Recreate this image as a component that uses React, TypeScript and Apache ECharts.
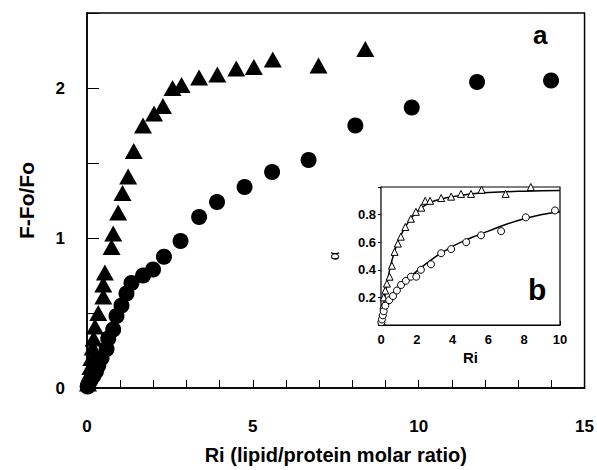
import React, { useEffect, useRef } from "react";
import * as echarts from "echarts";

// Main panel (a): F-Fo/Fo vs Ri
const mainTriangles: [number, number][] = [
  [0.03, 0.03], [0.06, 0.08], [0.1, 0.14], [0.13, 0.2], [0.17, 0.27], [0.2, 0.33],
  [0.24, 0.41], [0.34, 0.5], [0.49, 0.61], [0.49, 0.69], [0.54, 0.77], [0.74, 0.94],
  [0.79, 1.03], [0.94, 1.17], [1.07, 1.3], [1.24, 1.41], [1.41, 1.58], [1.69, 1.75],
  [2.02, 1.83], [2.29, 1.88], [2.58, 2.0], [2.85, 2.02], [3.38, 2.07], [3.93, 2.09],
  [4.5, 2.13], [5.03, 2.14], [5.6, 2.19], [6.98, 2.15], [8.39, 2.26],
];
const mainCircles: [number, number][] = [
  [0.02, 0.01], [0.05, 0.03], [0.1, 0.05], [0.19, 0.08], [0.27, 0.11], [0.34, 0.15],
  [0.44, 0.2], [0.59, 0.26], [0.64, 0.33], [0.79, 0.39], [0.89, 0.48], [1.04, 0.55],
  [1.19, 0.63], [1.34, 0.7], [1.69, 0.75], [1.99, 0.79], [2.32, 0.875], [2.82, 0.98],
  [3.38, 1.14], [3.92, 1.24], [4.75, 1.34], [5.58, 1.44], [6.68, 1.52], [8.09, 1.75],
  [9.79, 1.87], [11.76, 2.04], [13.99, 2.05],
];

// Inset panel (b): alpha vs Ri
const insetTriangles: [number, number][] = [
  [0.03, 0.03], [0.08, 0.09], [0.13, 0.14], [0.15, 0.2], [0.24, 0.25], [0.33, 0.3],
  [0.48, 0.35], [0.61, 0.43], [0.76, 0.53], [0.94, 0.59], [1.11, 0.64], [1.36, 0.71],
  [1.67, 0.77], [1.95, 0.82], [2.25, 0.85], [2.47, 0.9], [2.74, 0.9], [3.36, 0.92],
  [3.92, 0.93], [4.47, 0.95], [5.03, 0.95], [5.62, 0.98], [6.96, 0.95], [8.37, 1.0],
];
const insetCircles: [number, number][] = [
  [0.02, 0.02], [0.05, 0.04], [0.1, 0.07], [0.15, 0.1], [0.24, 0.14], [0.46, 0.18],
  [0.67, 0.21], [0.89, 0.25], [1.12, 0.29], [1.39, 0.32], [1.67, 0.35], [1.97, 0.35],
  [2.23, 0.4], [2.79, 0.44], [3.36, 0.52], [3.92, 0.55], [4.76, 0.6], [5.59, 0.65],
  [6.71, 0.68], [8.09, 0.78], [9.72, 0.83],
];
const fitTriangles: [number, number][] = [
  [0, 0], [0.25, 0.24], [0.5, 0.41], [0.75, 0.53], [1, 0.62], [1.5, 0.74], [2, 0.82],
  [2.5, 0.87], [3, 0.9], [4, 0.93], [5, 0.95], [6, 0.96], [8, 0.97], [10, 0.975],
];
const fitCircles: [number, number][] = [
  [0, 0], [0.25, 0.1], [0.5, 0.17], [1, 0.26], [1.5, 0.33], [2, 0.39], [3, 0.49],
  [4, 0.57], [5, 0.63], [6, 0.68], [7, 0.73], [8, 0.77], [9, 0.8], [10, 0.82],
];

const mainXLabels = [0, 5, 10, 15];
const mainYLabels = [0, 1, 2];
const insetXLabels = [0, 2, 4, 6, 8, 10];
const insetYLabels = [0.2, 0.4, 0.6, 0.8];

const FONT = "Liberation Sans, Arial, sans-serif";

export default function App() {
  const ref = useRef<HTMLDivElement>(null);
  useEffect(() => {
    if (!ref.current) return;
    const chart = echarts.init(ref.current, null, { renderer: "svg" });
    const black = "#000";
    const mainLabel = { color: black, fontFamily: FONT, fontWeight: "bold" as const, fontSize: 17 };
    const insetLabel = { color: black, fontFamily: FONT, fontWeight: "bold" as const, fontSize: 13 };
    chart.setOption({
      animation: false,
      backgroundColor: "#fff",
      grid: [
        { left: 87, top: 13, right: 11, bottom: 77, show: true, borderColor: black, borderWidth: 1.5, backgroundColor: "transparent" },
        { left: 381, top: 187, width: 179, height: 138, show: true, borderColor: black, borderWidth: 1.2, backgroundColor: "#fff", z: 5 },
      ],
      xAxis: [
        {
          gridIndex: 0, type: "value", min: 0, max: 15, interval: 1,
          name: "Ri (lipid/protein molar ratio)", nameLocation: "middle", nameGap: 57,
          nameTextStyle: { ...mainLabel, fontSize: 20 },
          axisLine: { lineStyle: { color: black, width: 1.5 } },
          axisTick: { inside: true, length: 8, lineStyle: { color: black, width: 1 } },
          axisLabel: {
            ...mainLabel, margin: 30,
            formatter: (v: number) => (mainXLabels.includes(v) ? String(v) : ""),
          },
          splitLine: { show: false },
        },
        {
          gridIndex: 1, type: "value", min: 0, max: 10, interval: 1,
          name: "Ri", nameLocation: "middle", nameGap: 25,
          nameTextStyle: { ...insetLabel, fontSize: 15 },
          axisLine: { lineStyle: { color: black, width: 1.2 } },
          axisTick: { inside: true, length: 4, lineStyle: { color: black } },
          axisLabel: {
            ...insetLabel, margin: 8,
            formatter: (v: number) => (insetXLabels.includes(v) ? String(v) : ""),
          },
          splitLine: { show: false },
        },
      ],
      yAxis: [
        {
          gridIndex: 0, type: "value", min: 0, max: 2.5, interval: 0.5,
          name: "F-Fo/Fo", nameLocation: "middle", nameGap: 50, nameRotate: 90,
          nameTextStyle: { ...mainLabel, fontSize: 21 },
          axisLine: { lineStyle: { color: black, width: 1.5 } },
          axisTick: { inside: true, length: 12, lineStyle: { color: black, width: 1 } },
          axisLabel: {
            ...mainLabel, margin: 22,
            formatter: (v: number) => (mainYLabels.includes(v) ? String(v) : ""),
          },
          splitLine: { show: false },
        },
        {
          gridIndex: 1, type: "value", min: 0, max: 1, interval: 0.2,
          name: "α", nameLocation: "middle", nameGap: 40, nameRotate: 90,
          nameTextStyle: { color: black, fontFamily: FONT, fontSize: 15 },
          axisLine: { lineStyle: { color: black, width: 1.2 } },
          axisTick: { inside: false, length: 3, lineStyle: { color: black } },
          axisLabel: {
            ...insetLabel, margin: 5,
            formatter: (v: number) => {
              const r = Math.round(v * 10) / 10;
              return insetYLabels.includes(r) ? r.toFixed(1) : "";
            },
          },
          splitLine: { show: false },
        },
      ],
      series: [
        {
          type: "scatter", xAxisIndex: 0, yAxisIndex: 0, data: mainTriangles,
          symbol: "triangle", symbolSize: [18, 16], clip: false,
          itemStyle: { color: black, opacity: 1 }, z: 2,
        },
        {
          type: "scatter", xAxisIndex: 0, yAxisIndex: 0, data: mainCircles,
          symbol: "circle", symbolSize: 16, clip: false,
          itemStyle: { color: black, opacity: 1 }, z: 2,
        },
        {
          type: "line", xAxisIndex: 1, yAxisIndex: 1, data: fitTriangles, smooth: true,
          showSymbol: false, lineStyle: { color: black, width: 1.5 }, z: 6,
        },
        {
          type: "line", xAxisIndex: 1, yAxisIndex: 1, data: fitCircles, smooth: true,
          showSymbol: false, lineStyle: { color: black, width: 1.5 }, z: 6,
        },
        {
          type: "scatter", xAxisIndex: 1, yAxisIndex: 1, data: insetTriangles,
          symbol: "triangle", symbolSize: 7, clip: false,
          itemStyle: { color: "#fff", borderColor: black, borderWidth: 1, opacity: 1 }, z: 7,
        },
        {
          type: "scatter", xAxisIndex: 1, yAxisIndex: 1, data: insetCircles,
          symbol: "circle", symbolSize: 7, clip: false,
          itemStyle: { color: "#fff", borderColor: black, borderWidth: 1, opacity: 1 }, z: 7,
        },
      ],
      graphic: [
        {
          type: "text", left: 533, top: 22, z: 10,
          style: { text: "a", fill: black, font: `bold 26px ${FONT}` },
        },
        {
          type: "text", left: 528, top: 274, z: 10,
          style: { text: "b", fill: black, font: `bold 30px ${FONT}` },
        },
      ],
    });
    return () => chart.dispose();
  }, []);
  return (
    <div
      ref={ref}
      style={{ position: "absolute", left: 0, top: 0, width: 597, height: 470 }}
    />
  );
}
